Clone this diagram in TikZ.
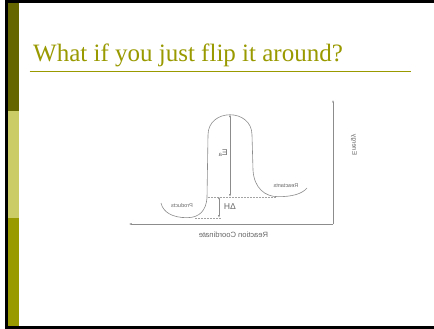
\documentclass[tikz,border=0pt]{standalone}
\usepackage{fontspec}
\setmainfont{Liberation Serif}
\newfontfamily\plotfont{Liberation Sans}
\usetikzlibrary{arrows.meta,positioning}
\definecolor{DarkOlive}{HTML}{666600}
\definecolor{PaleOlive}{HTML}{CCCC66}
\definecolor{Olive}{HTML}{999900}
\definecolor{PlotGray}{HTML}{8C8C8C}
\definecolor{LabelGray}{HTML}{666666}

\begin{document}
\begin{tikzpicture}[x=1pt,y=-1pt,>={Latex[length=2.5pt,width=2pt]},
    curve/.style={PlotGray,line width=0.6pt},
    level/.style={PlotGray!80,dash pattern=on 1.5pt off 1.5pt,line width=0.4pt},
    tag/.style={LabelGray,xscale=-1,inner sep=0pt,font=\plotfont\fontsize{5.5}{6}\selectfont}]
    \useasboundingbox (0,0) rectangle (434,329);
    \fill[white] (0,0) rectangle (434,329);
    % slide frame
    \fill[DarkOlive] (8,0) rectangle (19,111);
    \fill[PaleOlive] (8,111) rectangle (19,218);
    \fill[Olive] (8,218) rectangle (19,326);
    \draw[line width=3pt] (5,1.5) -- (434,1.5);
    \draw[line width=3pt] (5,327.5) -- (434,327.5);
    \draw[line width=2.5pt] (6.5,0) -- (6.5,329);
    \node[anchor=base west,Olive,inner sep=0pt,font=\fontsize{25}{30}\selectfont] (title) at (33,62) {What if you just flip it around?};
    \draw[Olive,line width=0.8pt] (29.5,71) -- (410.5,71);
    % axes
    \coordinate (origin) at (333,224);
    \coordinate (xend) at (129,224);
    \coordinate (yend) at (333,100);
    \draw[->,curve] (origin) -- (xend);
    \draw[->,curve] (origin) -- (yend);
    % energy profile
    \draw[curve] (161,203) .. controls (163,212) and (172,217.7) .. (187,217.7)
        .. controls (200,217.7) and (206,210) .. (207,198)
        -- (208,135) .. controls (208,108) and (252,108) .. (252,135)
        -- (253,170) .. controls (254,188) and (265,196.7) .. (278,196.7)
        .. controls (292,196.7) and (302,194) .. (307,188);
    \coordinate (peak) at (230,114.5);
    \coordinate (ealow) at (230,196.7);
    \coordinate (dhtop) at (219,196.7);
    \coordinate (dhlow) at (219,217.7);
    \draw[level] (208,196.7) -- (277,196.7);
    \draw[level] (195,217.7) -- (221,217.7);
    \draw[<->,curve,line width=0.5pt] (peak) -- (ealow);
    \draw[<->,curve,line width=0.5pt] (dhtop) -- (dhlow);
    \node[tag,font=\plotfont\fontsize{8.5}{9}\selectfont] (ea) at (223,153) {E\textsubscript{a}};
    \node[tag,font=\plotfont\fontsize{8.5}{9}\selectfont] (dh) at (230,207) {ΔH};
    \node[tag] (prod) at (182,206) {Products};
    \node[tag] (react) at (286,186) {Reactants};
    \node[tag,font=\plotfont\fontsize{7.6}{8}\selectfont] (xlab) at (233.5,235) {Reaction Coordinate};
    \node[tag,rotate=90,font=\plotfont\fontsize{6.5}{7}\selectfont] (ylab) at (354,145) {Energy};
\end{tikzpicture}
\end{document}
